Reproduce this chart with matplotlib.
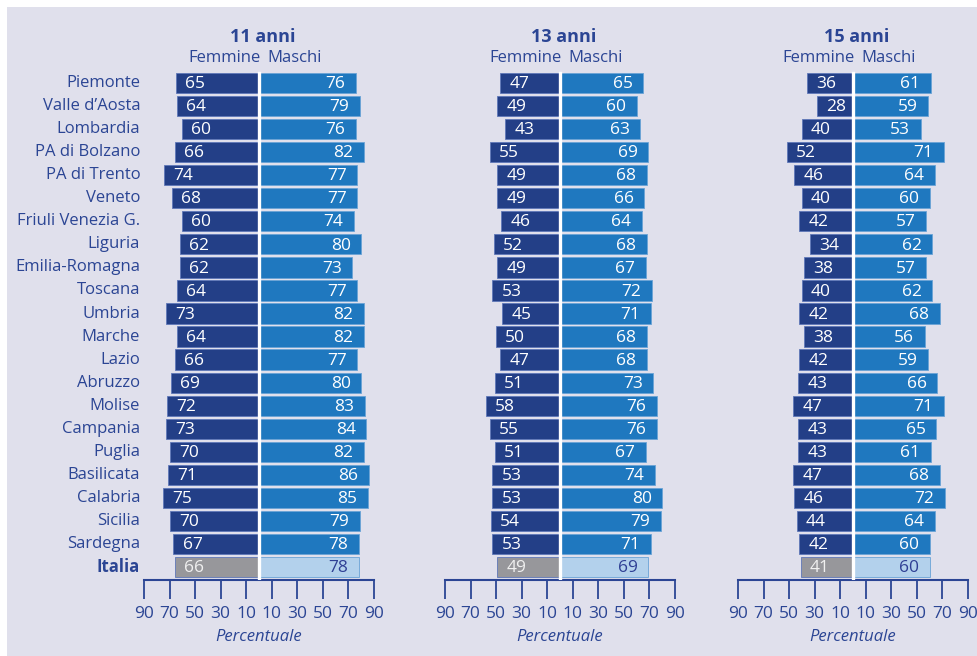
import matplotlib.pyplot as plt
import matplotlib.patches as patches

plt.rcParams['font.family'] = ['Open Sans', 'DejaVu Sans']

# Data
regions = ["Piemonte", "Valle d\u2019Aosta", "Lombardia", "PA di Bolzano", "PA di Trento",
           "Veneto", "Friuli Venezia G.", "Liguria", "Emilia-Romagna", "Toscana",
           "Umbria", "Marche", "Lazio", "Abruzzo", "Molise", "Campania", "Puglia",
           "Basilicata", "Calabria", "Sicilia", "Sardegna", "Italia"]

femmine_11 = [65, 64, 60, 66, 74, 68, 60, 62, 62, 64, 73, 64, 66, 69, 72, 73, 70, 71, 75, 70, 67, 66]
maschi_11 = [76, 79, 76, 82, 77, 77, 74, 80, 73, 77, 82, 82, 77, 80, 83, 84, 82, 86, 85, 79, 78, 78]

femmine_13 = [47, 49, 43, 55, 49, 49, 46, 52, 49, 53, 45, 50, 47, 51, 58, 55, 51, 53, 53, 54, 53, 49]
maschi_13 = [65, 60, 63, 69, 68, 66, 64, 68, 67, 72, 71, 68, 68, 73, 76, 76, 67, 74, 80, 79, 71, 69]

femmine_15 = [36, 28, 40, 52, 46, 40, 42, 34, 38, 40, 42, 38, 42, 43, 47, 43, 43, 47, 46, 44, 42, 41]
maschi_15 = [61, 59, 53, 71, 64, 60, 57, 62, 57, 62, 68, 56, 59, 66, 71, 65, 61, 68, 72, 64, 60, 60]

titles = ["11 anni", "13 anni", "15 anni"]
tick_values = [10, 30, 50, 70, 90]

# Style
W, H = 978, 656
BG = '#e0e0ec'
TXT = '#2b4594'
C_F = '#233f87'
C_M = '#1f78bf'
C_F_IT = '#97979b'
C_M_IT = '#b3d1ec'

fig = plt.figure(figsize=(W / 100, H / 100), dpi=100, facecolor='white')
bg = patches.Rectangle((7 / W, 0), 1 - 7 / W, 1 - 7 / H, transform=fig.transFigure,
                       facecolor=BG, edgecolor='none', zorder=-10)
fig.add_artist(bg)

# axis left pixel, right pixel for each panel (x from -90 to 90)
panel_px = [(144, 374), (445, 675), (738, 968)]
top_px, bottom_px = 70, 580
row0_px, row_step = 83, 23.05
n = len(regions)
y_top = (top_px - row0_px) / row_step
y_bot = (bottom_px - row0_px) / row_step

panels = [(femmine_11, maschi_11), (femmine_13, maschi_13), (femmine_15, maschi_15)]

for p, ((f_vals, m_vals), (x0, x1)) in enumerate(zip(panels, panel_px)):
    ax = fig.add_axes([x0 / W, 1 - bottom_px / H, (x1 - x0) / W, (bottom_px - top_px) / H])
    ax.set_facecolor('none')
    ax.set_xlim(-90, 90)
    ax.set_ylim(y_bot, y_top)

    ys = list(range(n))
    f_cols = [C_F] * (n - 1) + [C_F_IT]
    m_cols = [C_M] * (n - 1) + [C_M_IT]
    ax.barh(ys, [-v for v in f_vals], height=0.88, color=f_cols,
            edgecolor='#5f78b8', linewidth=0.6, zorder=2)
    ax.barh(ys, m_vals, height=0.88, color=m_cols,
            edgecolor='#6aa3d6', linewidth=0.6, zorder=2)
    # white separator between the two sides
    ax.plot([0, 0], [-0.44, y_bot], color='white', linewidth=2.4, zorder=3)

    for i in range(n):
        it = i == n - 1
        ax.text(-(f_vals[i] - 15), i + 0.05, str(f_vals[i]), ha='center', va='center',
                fontsize=12.5, color='#f0f0f0' if it else 'white', zorder=4)
        ax.text(m_vals[i] - 16, i + 0.05, str(m_vals[i]), ha='center', va='center',
                fontsize=12.5, color='#2e3f94' if it else 'white', zorder=4)

    for s in ['top', 'left', 'right']:
        ax.spines[s].set_visible(False)
    ax.spines['bottom'].set_color(TXT)
    ax.spines['bottom'].set_linewidth(1.5)
    ticks = [-v for v in tick_values[::-1]] + tick_values
    ax.set_xticks(ticks)
    ax.set_xticklabels([str(abs(t)) for t in ticks])
    ax.tick_params(axis='x', direction='out', length=14, width=1.3, color=TXT,
                   labelcolor=TXT, labelsize=12.5, pad=5)
    ax.set_yticks([])
    ax.set_xlabel('Percentuale', fontsize=12, style='italic', color=TXT, labelpad=5)

    # titles
    ax.text(3, y_top - 1.45, titles[p], ha='center', va='center', fontsize=13,
            fontweight='bold', color=TXT)
    ax.text(1, y_top - 0.5, 'Femmine', ha='right', va='center', fontsize=12, color=TXT)
    ax.text(6.5, y_top - 0.5, 'Maschi', ha='left', va='center', fontsize=12, color=TXT)

    if p == 0:
        for i, r in enumerate(regions):
            ax.text(-93, i, r, ha='right', va='center', fontsize=12, color=TXT,
                    fontweight='bold' if i == n - 1 else 'normal')

fig.savefig('out.png', dpi=100, facecolor=fig.get_facecolor())
